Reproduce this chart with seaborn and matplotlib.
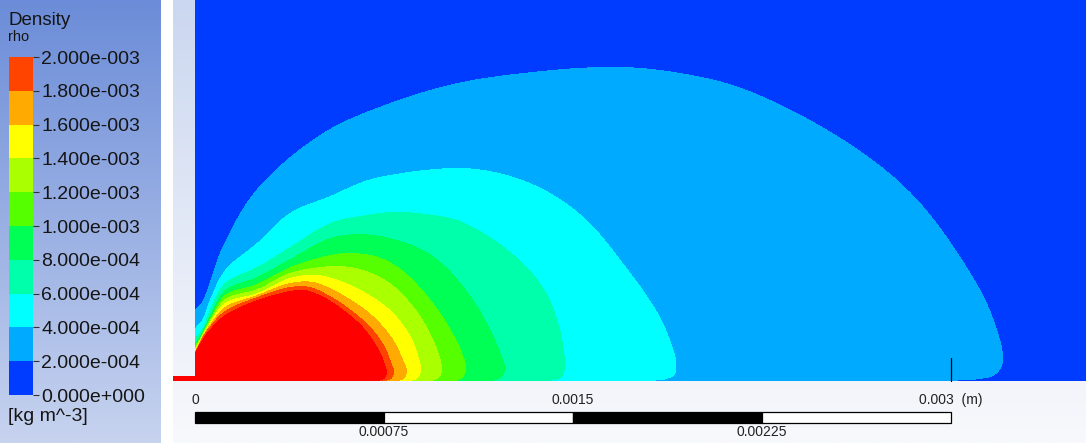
import numpy as np
import matplotlib
matplotlib.use("Agg")
import matplotlib.pyplot as plt
from matplotlib.colors import ListedColormap, LinearSegmentedColormap
from matplotlib.path import Path
import seaborn as sns

# ---------------- data ----------------
# legend levels of density rho [kg m^-3]
LEVEL_LABELS = ["0.000e+000", "2.000e-004", "4.000e-004", "6.000e-004",
                "8.000e-004", "1.000e-003", "1.200e-003", "1.400e-003",
                "1.600e-003", "1.800e-003", "2.000e-003"]
BAND_COLORS = ["#003cff", "#00aaff", "#00ffff", "#00ffaa", "#00ff55",
               "#55ff00", "#aaff00", "#ffff00", "#ffaa00", "#ff4400"]
OVER_COLOR = "#ff0000"

# iso-density boundaries (x, y) in micrometres, from the wall round to the axis
RHO_2E4 = [(0, 282), (28, 313), (60, 397), (111, 536), (246, 762), (508, 984),
           (774, 1103), (1040, 1182), (1301, 1222), (1619, 1246), (1845, 1234),
           (2167, 1163), (2575, 956), (2849, 738), (3055, 464), (3162, 262),
           (3206, 75), (3174, 24), (3115, 8), (2976, 0)]
RHO_4E4 = [(0, 210), (28, 242), (60, 325), (119, 440), (246, 548), (377, 667),
           (536, 734), (675, 794), (794, 821), (952, 841), (1071, 845),
           (1190, 829), (1309, 794), (1436, 730), (1567, 627), (1698, 468),
           (1786, 349), (1845, 254), (1885, 163), (1909, 79), (1905, 28),
           (1873, 8), (1805, 0)]
RHO_6E4 = [(0, 171), (28, 206), (60, 286), (119, 389), (246, 452), (377, 532),
           (536, 627), (655, 655), (794, 671), (913, 663), (1040, 639),
           (1171, 571), (1301, 468), (1369, 389), (1417, 302), (1448, 206),
           (1464, 119), (1468, 48), (1452, 12), (1409, 0)]
RHO_8E4 = [(0, 151), (28, 194), (60, 262), (119, 361), (246, 413), (377, 484),
           (536, 567), (655, 583), (774, 567), (905, 520), (992, 456),
           (1063, 377), (1127, 286), (1178, 190), (1210, 119), (1230, 48),
           (1214, 12), (1178, 0)]
RHO_1E3 = [(0, 139), (28, 186), (60, 250), (119, 341), (246, 385), (377, 452),
           (536, 500), (615, 508), (714, 496), (794, 460), (853, 413),
           (913, 349), (968, 278), (1016, 202), (1052, 131), (1075, 56),
           (1063, 12), (1032, 0)]
RHO_12E4 = [(0, 131), (28, 183), (60, 242), (119, 325), (246, 365), (377, 429),
            (496, 452), (575, 456), (655, 444), (734, 413), (794, 373),
            (849, 317), (897, 254), (936, 183), (964, 119), (980, 48),
            (968, 12), (936, 0)]
RHO_14E4 = [(0, 123), (28, 179), (60, 234), (119, 310), (246, 349), (377, 409),
            (484, 421), (556, 405), (635, 373), (706, 333), (770, 286),
            (821, 230), (861, 167), (885, 103), (897, 44), (885, 12), (857, 0)]
RHO_16E4 = [(0, 119), (28, 175), (60, 226), (119, 294), (246, 341), (377, 389),
            (468, 393), (536, 369), (615, 325), (683, 278), (742, 222),
            (790, 159), (821, 95), (841, 40), (829, 8), (802, 0)]
RHO_18E4 = [(0, 115), (28, 171), (60, 218), (119, 278), (246, 333), (377, 373),
            (456, 373), (536, 337), (603, 294), (663, 246), (714, 194),
            (754, 135), (778, 75), (790, 36), (778, 8), (754, 0)]
RHO_2E3 = [(0, 111), (28, 163), (60, 206), (119, 262), (246, 321), (377, 357),
           (436, 361), (496, 341), (556, 306), (615, 262), (667, 214),
           (706, 163), (734, 115), (754, 67), (762, 32), (750, 8), (726, 0)]

DOMAIN_W_UM = 3535.5          # visible width of the fluid domain
DOMAIN_H_UM = 1511.8          # visible height of the fluid domain
INLET_LEN_M = 8.7e-5          # red inlet segment left of the axis origin
PROBE_X_M = 0.003             # small marker on the axis
PROBE_H_M = 9.1e-5

SCALE_TICKS_M = [0.0, 0.00075, 0.0015, 0.00225, 0.003]
SCALE_UPPER = [(0.0, "0"), (0.0015, "0.0015"), (0.003, "0.003  (m)")]
SCALE_LOWER = [(0.00075, "0.00075"), (0.00225, "0.00225")]

# ---------------- style ----------------
sns.set_theme(style="white")
plt.rcParams["font.family"] = ["Liberation Sans", "DejaVu Sans"]

W, H = 1086, 443
fig = plt.figure(figsize=(W / 100, H / 100), dpi=100)


def box(x0, y0, x1, y1):
    return [x0 / W, 1 - y1 / H, (x1 - x0) / W, (y1 - y0) / H]


def smooth(points, n=20, alpha=0.5):
    """Centripetal Catmull-Rom curve through the read boundary points."""
    P = np.asarray(points, float)
    P = np.vstack([2 * P[0] - P[1], P, 2 * P[-1] - P[-2]])
    out = []
    for i in range(len(P) - 3):
        p0, p1, p2, p3 = P[i:i + 4]
        t0 = 0.0
        t1 = t0 + max(np.linalg.norm(p1 - p0), 1e-6) ** alpha
        t2 = t1 + max(np.linalg.norm(p2 - p1), 1e-6) ** alpha
        t3 = t2 + max(np.linalg.norm(p3 - p2), 1e-6) ** alpha
        t = np.linspace(t1, t2, n, endpoint=False)[:, None]
        A1 = (t1 - t) / (t1 - t0) * p0 + (t - t0) / (t1 - t0) * p1
        A2 = (t2 - t) / (t2 - t1) * p1 + (t - t1) / (t2 - t1) * p2
        A3 = (t3 - t) / (t3 - t2) * p2 + (t - t2) / (t3 - t2) * p3
        B1 = (t2 - t) / (t2 - t0) * A1 + (t - t0) / (t2 - t0) * A2
        B2 = (t3 - t) / (t3 - t1) * A2 + (t - t1) / (t3 - t1) * A3
        out.append((t2 - t) / (t2 - t1) * B1 + (t - t1) / (t2 - t1) * B2)
    out.append(P[-2][None, :])
    C = np.vstack(out)
    C[:, 0] = np.clip(C[:, 0], 0, None)
    C[:, 1] = np.clip(C[:, 1], 0, None)
    return C


# background panels
ax_bg = fig.add_axes([0, 0, 1, 1])
ax_bg.set_xlim(0, W)
ax_bg.set_ylim(H, 0)
ax_bg.set_axis_off()
grad = np.linspace(0, 1, 256).reshape(-1, 1)
ax_bg.imshow(grad, cmap=LinearSegmentedColormap.from_list("lg", ["#6b8cd8", "#c7d3ef"]),
             extent=(0, 161, H, 0), aspect="auto", origin="upper")
ax_bg.imshow(grad, cmap=LinearSegmentedColormap.from_list("vg", ["#cbd7f0", "#f8f9fc"]),
             extent=(173, W, H, 0), aspect="auto", origin="upper")

# ---------------- contour field ----------------
PX_UM = DOMAIN_W_UM / 891
nx, ny = 891, 381
xs = (np.arange(nx) + 0.5) * PX_UM
ys = (np.arange(ny)[::-1] + 0.5) * PX_UM
XX, YY = np.meshgrid(xs, ys)
pts = np.column_stack([XX.ravel(), YY.ravel()])
field = np.zeros(nx * ny)
for bnd in [RHO_2E4, RHO_4E4, RHO_6E4, RHO_8E4, RHO_1E3, RHO_12E4,
            RHO_14E4, RHO_16E4, RHO_18E4, RHO_2E3]:
    curve = smooth(bnd)
    verts = np.vstack([[0, 0], curve, [0, 0]])
    field += Path(verts).contains_points(pts)
field = field.reshape(ny, nx)

ax_f = fig.add_axes(box(195, 0, 1086, 381))
sns.heatmap(field, ax=ax_f, cmap=ListedColormap(BAND_COLORS + [OVER_COLOR]),
            vmin=-0.5, vmax=10.5, cbar=False, xticklabels=False,
            yticklabels=False, rasterized=True)
ax_f.set_axis_off()

# ---------------- overlay in metres: inlet, probe, scale bar ----------------
PXM = PX_UM * 1e-6
ax_o = fig.add_axes(box(173, 0, 1086, 443))
ax_o.set_xlim((173 - 195) * PXM, (1086 - 195) * PXM)
ax_o.set_ylim((381 - 443) * PXM, 381 * PXM)
ax_o.set_axis_off()
ax_o.patch.set_alpha(0)
ax_o.barh(2.5 * PXM, INLET_LEN_M, left=-INLET_LEN_M, height=5 * PXM,
          color=OVER_COLOR, linewidth=0)
ax_o.plot([PROBE_X_M, PROBE_X_M], [0, PROBE_H_M], color="black", lw=0.9)

edges = np.array(SCALE_TICKS_M)
bar_y0, bar_y1 = (381 - 423.3) * PXM, (381 - 411.7) * PXM
ax_o.barh((bar_y0 + bar_y1) / 2, np.diff(edges), left=edges[:-1],
          height=bar_y1 - bar_y0,
          color=["black" if i % 2 == 0 else "white" for i in range(len(edges) - 1)],
          edgecolor="black", linewidth=0.9)
for xv, lab in SCALE_UPPER:
    ax_o.text(xv, (381 - 400) * PXM, lab, ha="center", va="center",
              fontsize=10, color="#222222")
for xv, lab in SCALE_LOWER:
    ax_o.text(xv, (381 - 432.5) * PXM, lab, ha="center", va="center",
              fontsize=10, color="#222222")

# ---------------- legend ----------------
ax_l = fig.add_axes(box(9, 57, 33, 395))
bands = np.arange(len(BAND_COLORS))[::-1].reshape(-1, 1)
sns.heatmap(bands, ax=ax_l, cmap=ListedColormap(BAND_COLORS),
            vmin=-0.5, vmax=len(BAND_COLORS) - 0.5, cbar=False,
            xticklabels=False, yticklabels=False)
ax_l.set_yticks(np.arange(len(LEVEL_LABELS)))
ax_l.set_yticklabels(LEVEL_LABELS[::-1])
ax_l.yaxis.tick_right()
ax_l.tick_params(axis="y", right=True, left=False, length=4.5, width=0.8,
                 color="#333333", pad=1.5, labelsize=14, labelcolor="#151515")
ax_l.set_xticks([])
for s in ax_l.spines.values():
    s.set_visible(False)

ax_bg.text(8, 25, "Density", fontsize=13.5, color="#151515", va="baseline")
ax_bg.text(8, 41, "rho", fontsize=10.5, color="#151515", va="baseline")
ax_bg.text(8, 421, "[kg m^-3]", fontsize=14, color="#151515", va="baseline")

fig.savefig("out.png", dpi=100)
